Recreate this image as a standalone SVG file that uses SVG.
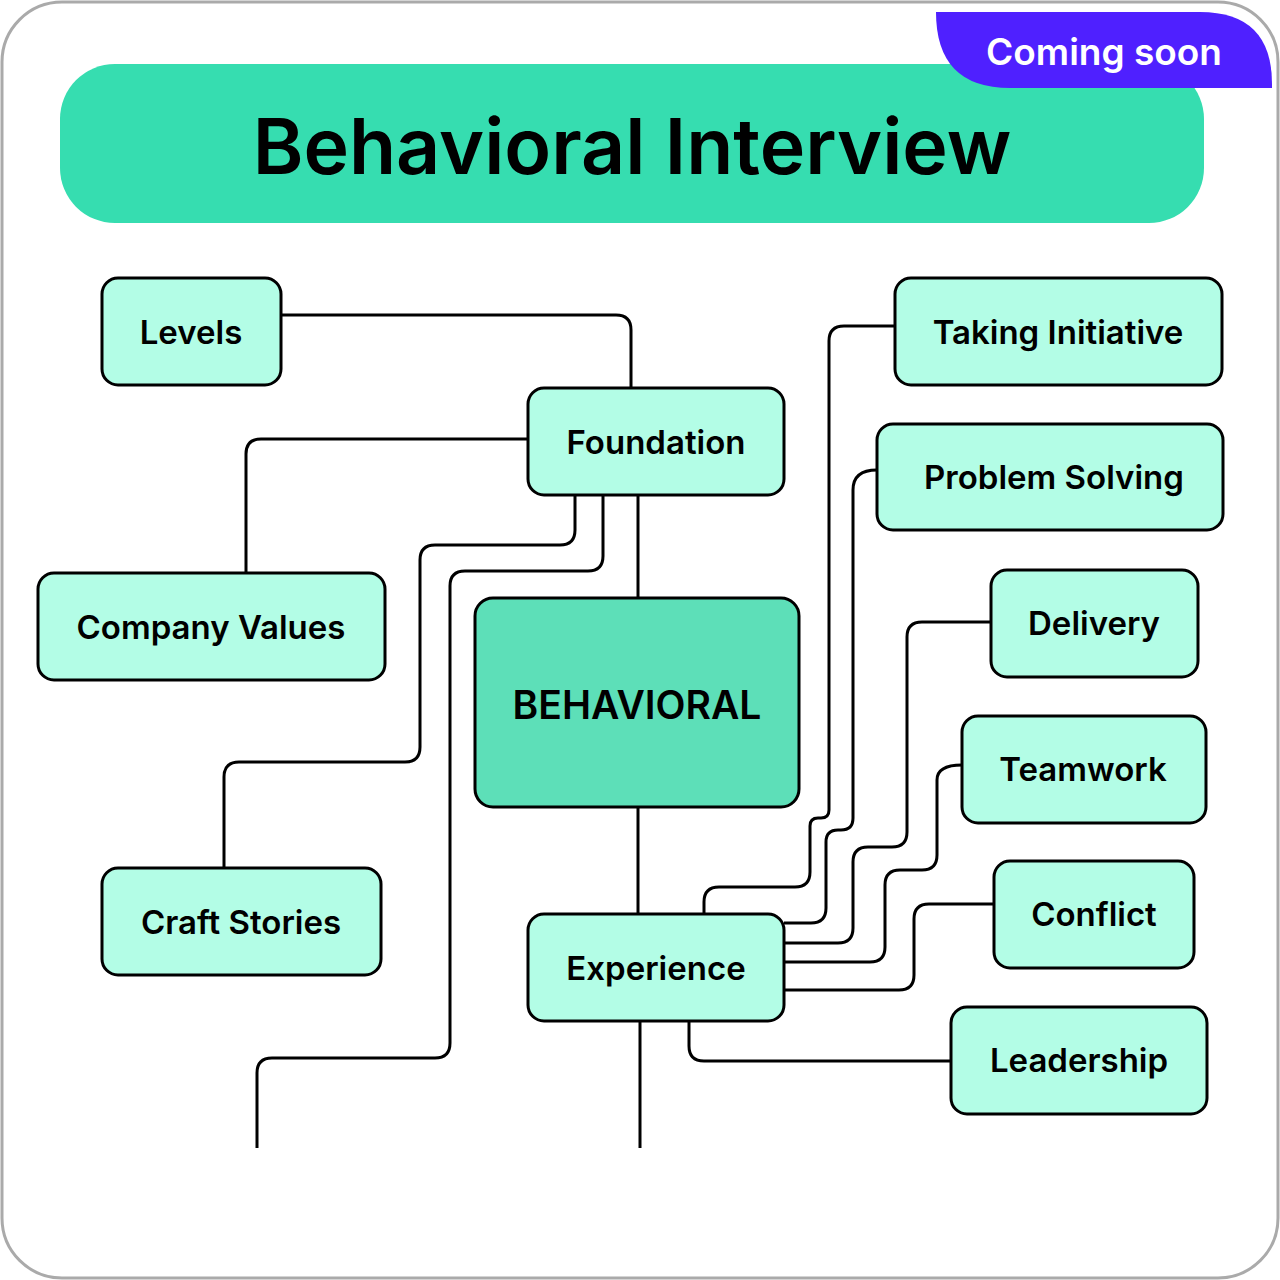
<svg xmlns="http://www.w3.org/2000/svg" width="1280" height="1280" viewBox="0 0 1280 1280">
<style>
.n{fill:#b3fde6;stroke:#000;stroke-width:3}
.t{font-family:Inter,"Noto Sans",sans-serif;font-weight:600;font-size:33px;text-anchor:middle;dominant-baseline:central;fill:#000}
#connectors path{fill:none;stroke:#000;stroke-width:3}
</style>
<rect x="2" y="2" width="1276" height="1276" rx="60" fill="#fff" stroke="#aaa" stroke-width="3"/>
<g id="title">
<rect x="60" y="64" width="1144" height="159" rx="55" fill="#36ddb0"/>
<text x="632" y="146" class="t" style="font-size:77px">Behavioral Interview</text>
</g>
<g id="badge">
<path d="M936,12 H1200 Q1272,12 1272,84 V88 H1010 Q936,88 936,12 Z" fill="#4f20ff"/>
<text x="1104" y="51" class="t" style="fill:#fff;font-size:37px">Coming soon</text>
</g>
<g id="connectors">
<path d="M282,315 H616 Q631,315 631,330 V388"/>
<path d="M528,439 H261 Q246,439 246,454 V573"/>
<path d="M575,495 V530 Q575,545 560,545 H435 Q420,545 420,560 V747 Q420,762 405,762 H239 Q224,762 224,777 V868"/>
<path d="M603,495 V556 Q603,571 588,571 H465 Q450,571 450,586 V1043 Q450,1058 435,1058 H272 Q257,1058 257,1073 V1148"/>
<path d="M638,495 V598"/>
<path d="M638,807 V914"/>
<path d="M640,1021 V1148"/>
<path d="M895,326 H844 Q829,326 829,341 V810 Q829,818 821,818 H818 Q810,818 810,826 V872 Q810,887 795,887 H719 Q704,887 704,902 V914"/>
<path d="M877,470 Q853,470 853,490 V818 Q853,830 841,830 H838 Q826,830 826,842 V908 Q826,923 811,923 H784"/>
<path d="M991,622 H922 Q907,622 907,637 V832 Q907,847 892,847 H868 Q853,847 853,862 V928 Q853,943 838,943 H784"/>
<path d="M962,765 Q937,765 937,780 V855 Q937,870 922,870 H900 Q885,870 885,885 V947 Q885,962 870,962 H784"/>
<path d="M994,904 H929 Q914,904 914,919 V975 Q914,990 899,990 H784"/>
<path d="M689,1021 V1046 Q689,1061 704,1061 H951"/>
</g>
<g id="levels"><rect class="n" x="102" y="278" width="179" height="107" rx="16"/><text class="t" x="191" y="332">Levels</text></g>
<g id="foundation"><rect class="n" x="528" y="388" width="256" height="107" rx="16"/><text class="t" x="656" y="442">Foundation</text></g>
<g id="company-values"><rect class="n" x="38" y="573" width="347" height="107" rx="16"/><text class="t" x="211" y="627">Company Values</text></g>
<g id="craft-stories"><rect class="n" x="102" y="868" width="279" height="107" rx="16"/><text class="t" x="241" y="922">Craft Stories</text></g>
<g id="behavioral"><rect class="n" x="475" y="598" width="324" height="209" rx="18" style="fill:#5ddfb8"/><text class="t" x="637" y="704" style="font-size:39px">BEHAVIORAL</text></g>
<g id="experience"><rect class="n" x="528" y="914" width="256" height="107" rx="16"/><text class="t" x="656" y="968">Experience</text></g>
<g id="taking-initiative"><rect class="n" x="895" y="278" width="327" height="107" rx="16"/><text class="t" x="1058" y="332">Taking Initiative</text></g>
<g id="problem-solving"><rect class="n" x="877" y="424" width="346" height="106" rx="16"/><text class="t" x="1054" y="477">Problem Solving</text></g>
<g id="delivery"><rect class="n" x="991" y="570" width="207" height="107" rx="16"/><text class="t" x="1094" y="623">Delivery</text></g>
<g id="teamwork"><rect class="n" x="962" y="716" width="244" height="107" rx="16"/><text class="t" x="1083" y="769">Teamwork</text></g>
<g id="conflict"><rect class="n" x="994" y="861" width="200" height="107" rx="16"/><text class="t" x="1094" y="914">Conflict</text></g>
<g id="leadership"><rect class="n" x="951" y="1007" width="256" height="107" rx="16"/><text class="t" x="1079" y="1060">Leadership</text></g>
</svg>
